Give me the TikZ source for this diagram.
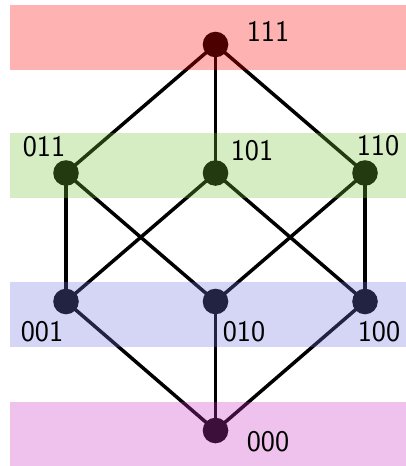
\documentclass[tikz,border=0pt]{standalone}
\definecolor{bandred}{RGB}{255,0,0}
\definecolor{bandgreen}{RGB}{118,195,58}
\definecolor{bandblue}{RGB}{115,118,222}
\definecolor{bandpurple}{RGB}{198,52,192}
\tikzset{
  vtx/.style={circle, fill=black, inner sep=0pt, minimum size=25.6pt},
  edge/.style={draw=black, line width=3.5pt},
  band/.style={opacity=0.3},
  lbl/.style={font=\sffamily\fontsize{30}{31}\selectfont, inner sep=0pt}
}
\begin{document}
\begin{tikzpicture}[x=1pt,y=-1pt]
\useasboundingbox (0,0) rectangle (406,466);
% vertices
\node[vtx] (v111) at (215.5,44.5) {};
\node[vtx] (v011) at (66,173) {};
\node[vtx] (v101) at (215.5,173) {};
\node[vtx] (v110) at (365,173) {};
\node[vtx] (v001) at (66,301.5) {};
\node[vtx] (v010) at (215.5,301.5) {};
\node[vtx] (v100) at (365,301.5) {};
\node[vtx] (v000) at (215.5,430.5) {};
% edges
\draw[edge] (v111.center) -- (v011.center);
\draw[edge] (v111.center) -- (v101.center);
\draw[edge] (v111.center) -- (v110.center);
\draw[edge] (v011.center) -- (v001.center);
\draw[edge] (v011.center) -- (v010.center);
\draw[edge] (v101.center) -- (v001.center);
\draw[edge] (v101.center) -- (v100.center);
\draw[edge] (v110.center) -- (v010.center);
\draw[edge] (v110.center) -- (v100.center);
\draw[edge] (v001.center) -- (v000.center);
\draw[edge] (v010.center) -- (v000.center);
\draw[edge] (v100.center) -- (v000.center);
% bands
\fill[band, bandred] (10,5) rectangle (406,70);
\fill[band, bandgreen] (10,132.7) rectangle (406,197.7);
\fill[band, bandblue] (10,281.7) rectangle (406,346.7);
\fill[band, bandpurple] (10,401.7) rectangle (406,466);
% labels
\node[lbl] (l111) at (268,31) {111};
\node[lbl] (l011) at (44,147) {011};
\node[lbl] (l101) at (252,151) {101};
\node[lbl] (l110) at (378,146) {110};
\node[lbl] (l001) at (42,332) {001};
\node[lbl] (l010) at (244,332) {010};
\node[lbl] (l100) at (379,332) {100};
\node[lbl] (l000) at (268,442) {000};
\end{tikzpicture}
\end{document}
